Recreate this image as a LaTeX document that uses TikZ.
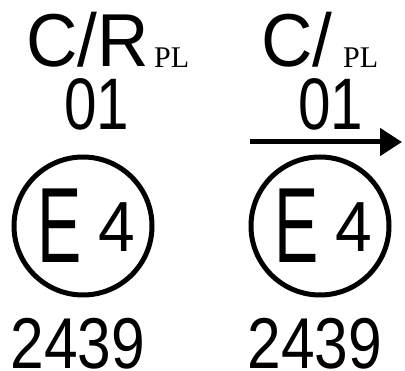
\documentclass[tikz,border=0pt]{standalone}
\usepackage{fontspec}
\setmainfont{Liberation Sans}
\newfontfamily\plfont{Liberation Serif}
\usetikzlibrary{arrows.meta}
\tikzstyle{approval}=[inner sep=0pt,anchor=base west,font=\fontsize{75}{75}\selectfont,xscale=0.95,transform shape]
\tikzstyle{sub}=[inner sep=0pt,anchor=base west,font=\plfont\fontsize{30}{30}\selectfont]
\tikzstyle{serial}=[inner sep=0pt,anchor=base,font=\fontsize{73}{73}\selectfont,xscale=0.8,transform shape]
\tikzstyle{seal}=[circle,draw,line width=5pt,minimum size=138pt,inner sep=0pt]
\tikzstyle{letter}=[inner sep=0pt,anchor=base,font=\fontsize{107}{107}\selectfont,xscale=0.62,transform shape]
\tikzstyle{country}=[inner sep=0pt,anchor=base,font=\fontsize{71}{71}\selectfont,xscale=0.93,transform shape]
\tikzstyle{code}=[inner sep=0pt,anchor=base,font=\fontsize{72}{72}\selectfont,xscale=0.84,transform shape]
\tikzstyle{pointer}=[line width=5pt,-{Triangle[length=22pt,width=27pt]}]

\begin{document}
\begin{tikzpicture}[x=1pt,y=-1pt]
    \useasboundingbox (0,0) rectangle (405,371);
    % First the headings above each mark
    \node[approval] (crL) at (26,67) {C/R};
    \node[sub] (plL) at (154,68) {PL};
    \node[serial] (numL) at (97,130) {01};
    \node[approval] (crR) at (261,67) {C/};
    \node[sub] (plR) at (343,68) {PL};
    \node[serial] (numR) at (331,130) {01};
    % The arrow over the right mark
    \coordinate (tail) at (250,142);
    \coordinate (head) at (402,142);
    \draw[pointer] (tail) -- (head);
    % Then the two circled marks with their numbers
    \foreach \c/\name in {83/L, 320/R} {
        \node[seal] (seal\name) at (\c,226) {};
        \node[letter] (e\name) at (\c-23,263) {E};
        \node[country] (four\name) at (\c+34,252) {4};
        \node[code] (code\name) at (\c-5,369) {2439};
    }
\end{tikzpicture}
\end{document}
